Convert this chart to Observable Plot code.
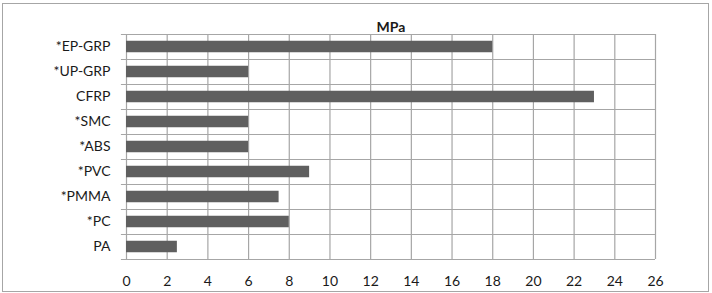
<!DOCTYPE html>
<html>
<head>
<meta charset="utf-8">
<script src="https://cdn.jsdelivr.net/npm/d3@7"></script>
<script src="https://cdn.jsdelivr.net/npm/@observablehq/plot@0.6"></script>
<style>
  html, body { margin: 0; padding: 0; background: #fff; }
  #wrap { position: relative; width: 712px; height: 293px; }
  #border { position: absolute; left: 2px; top: 3px; width: 705px; height: 287px; border: 1px solid #a6a6a6; pointer-events: none; }
  #chart { position: absolute; left: 0; top: 0; }
</style>
</head>
<body>
<div id="wrap"><div id="chart"></div><div id="border"></div></div>
<script>
const categories = ["*EP-GRP", "*UP-GRP", "CFRP", "*SMC", "*ABS", "*PVC", "*PMMA", "*PC", "PA"];
const values = [18, 6, 23, 6, 6, 9, 7.5, 8, 2.5];
const xTicks = [0, 2, 4, 6, 8, 10, 12, 14, 16, 18, 20, 22, 24, 26];
const title = "MPa";

const data = categories.map((c, i) => ({name: c, i, value: values[i]}));
const boundaries = d3.range(categories.length + 1);
const grid = "#a6a6a6";

const chart = Plot.plot({
  width: 712,
  height: 293,
  marginLeft: 126,
  marginRight: 57,
  marginTop: 34,
  marginBottom: 34,
  style: {fontFamily: "Lato, 'Open Sans', sans-serif", fontSize: "14px", color: "#1a1a1a", background: "transparent"},
  x: {domain: [0, 26], ticks: xTicks, tickSize: 0, tickPadding: 17, label: null},
  y: {domain: [0, categories.length], reverse: true, ticks: categories.map((_, i) => i + 0.5),
      tickFormat: d => categories[Math.floor(d)], tickSize: 0, tickPadding: 16, label: null},
  marks: [
    Plot.ruleX(xTicks, {x: d => d, stroke: grid, strokeWidth: 1.2, strokeOpacity: 1}),
    Plot.ruleY(boundaries, {y: d => d, x1: -0.25, x2: 26, stroke: grid, strokeWidth: 1.2, strokeOpacity: 1}),
    Plot.rect(data, {x1: 0, x2: "value", y1: d => d.i + 0.27, y2: d => d.i + 0.73, fill: "#5f5f5f"}),
    Plot.text([title], {frameAnchor: "top", dy: -12, text: d => d, fontWeight: "bold", fontSize: 14, fill: "#1a1a1a"})
  ]
});
document.getElementById("chart").appendChild(chart);
</script>
</body>
</html>
